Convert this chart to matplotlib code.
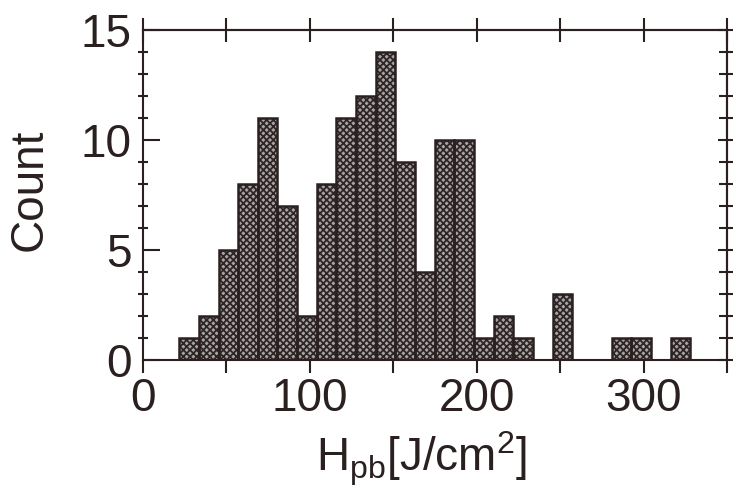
import numpy as np
import matplotlib
matplotlib.use("Agg")
import matplotlib.pyplot as plt
from matplotlib.ticker import MultipleLocator, NullFormatter

# Histogram counts per bin (H_pb in J/cm^2)
counts = [1, 2, 5, 8, 11, 7, 2, 8, 11, 12, 14, 9, 4, 10, 10,
          1, 2, 1, 0, 3, 0, 0, 1, 1, 0, 1]
bin_start = 21.7
bin_width = 11.78

x_major = [0, 100, 200, 300]
x_minor = [50, 150, 250, 350]
y_major = [0, 5, 10, 15]

ink = "#2a2020"
plt.rcParams["font.family"] = ["Liberation Sans", "DejaVu Sans"]
plt.rcParams["mathtext.fontset"] = "custom"
plt.rcParams["mathtext.rm"] = "Liberation Sans"
plt.rcParams["mathtext.it"] = "Liberation Sans"
plt.rcParams["hatch.linewidth"] = 1.3

W, H = 733, 497
fig = plt.figure(figsize=(W / 100, H / 100), dpi=100)
ax = fig.add_axes([143 / W, 1 - 360 / H, 584 / W, 330 / H])

edges = bin_start + bin_width * np.arange(len(counts))
# stippled fill
ax.bar(edges, counts, width=bin_width, align="edge",
       facecolor="#a8a4a4", edgecolor="#2e2626", hatch="xxxxx",
       linewidth=0, zorder=2)
# outlines
ax.bar(edges, counts, width=bin_width, align="edge",
       facecolor="none", edgecolor=ink, linewidth=1.8, zorder=3)

ax.set_xlim(0, 350)
ax.set_ylim(0, 15)

for s in ax.spines.values():
    s.set_linewidth(1.5)
    s.set_color(ink)

ax.set_xticks(x_major)
ax.set_xticks(x_minor, minor=True)
ax.tick_params(axis="x", which="both", direction="out", length=9.5,
               width=1.5, pad=3, labelsize=33, colors=ink)

ax.set_yticks(y_major)
ax.yaxis.set_minor_locator(MultipleLocator(1))
ax.tick_params(axis="y", which="major", direction="in", length=12,
               width=1.5, pad=8, labelsize=33, colors=ink)
ax.tick_params(axis="y", which="minor", direction="inout", length=6.5,
               width=1.5, colors=ink)

# top ticks
secx = ax.secondary_xaxis("top")
secx.set_xticks(x_major + x_minor)
secx.xaxis.set_major_formatter(NullFormatter())
secx.tick_params(axis="x", direction="inout", length=17, width=1.5,
                 colors=ink)
secx.spines["top"].set_linewidth(1.5)
secx.spines["top"].set_color(ink)

# right ticks
secy = ax.secondary_yaxis("right")
secy.set_yticks(y_major)
secy.yaxis.set_minor_locator(MultipleLocator(1))
secy.yaxis.set_major_formatter(NullFormatter())
secy.tick_params(axis="y", which="major", direction="inout", length=13,
                 width=1.5, colors=ink)
secy.tick_params(axis="y", which="minor", direction="inout", length=11,
                 width=1.5, colors=ink)
secy.spines["right"].set_linewidth(1.5)
secy.spines["right"].set_color(ink)

fig.text(30 / W, 1 - 190 / H, "Count", rotation=90, ha="center",
         va="center", fontsize=33, color=ink)
fig.text(422 / W, 1 - 472 / H, r"$\mathrm{H_{pb}[J/cm^2]}$", ha="center",
         va="baseline", fontsize=33, color=ink)

fig.savefig("out.png", dpi=100, facecolor="white")
